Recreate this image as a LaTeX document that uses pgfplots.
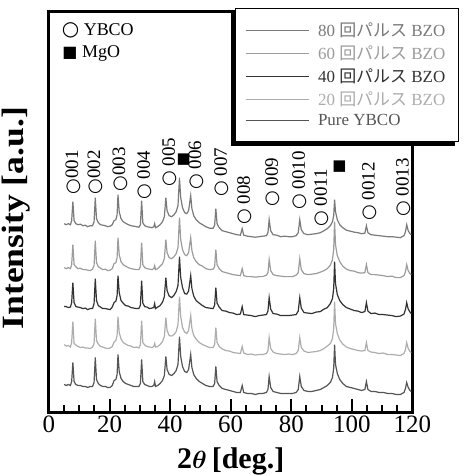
\documentclass[border=0pt]{standalone}
\usepackage{pgfplots}
\pgfplotsset{compat=1.18}
\usepackage{pgfplotstable}
\usepackage{fontspec}
\setmainfont{Liberation Serif}
\newfontfamily\cjk{Noto Sans CJK JP}
\newfontfamily\dejavu{DejaVu Sans}
\definecolor{c80}{HTML}{7A7A7A}
\definecolor{c60}{HTML}{9C9C9C}
\definecolor{c40}{HTML}{333333}
\definecolor{c20}{HTML}{ADADAD}
\definecolor{cpure}{HTML}{555555}

\pgfplotstableread{
x pure b20 b40 b60 b80
5.0 28 29 28 28 32
5.7 27 27.5 28 27 31
6.4 28 28 27 28 32
7.1 27 26.5 27.5 27 31
7.5 31 31 32 31 35
7.9 50 52 52 51 54
8.3 31 30 32 31 35
8.9 28 28.5 28 29 32
9.6 27 27 27.5 27 31
10.4 27 26 27 27.5 31.5
11.2 26 26.5 26 26 30
12.0 26 25.5 26.5 26 30.5
12.8 25 25.5 25 25.5 29
13.6 26 25 26 25 30
14.4 26 26.5 26 26.5 30
14.9 30 30 31 30 34
15.3 55 55 56 55 58
15.7 33 33 34 33 37
16.3 29 29.5 29 29 33
17.0 27 27 27.5 27.5 31
17.8 26 26.5 26 26 30.5
18.6 26 25.5 26 26.5 30
19.4 25 25 25.5 25 29
20.2 25 25.5 25 25.5 29.5
20.9 27 27 27.5 27 31
21.5 32 31.5 32 32 35
22.1 33 33 33.5 33 36
22.5 38 38 39 38 41
22.8 58 57 59 58 61
23.2 41 41 42 41 44
23.8 34 34.5 34 34 37
24.5 31 31 31.5 31 34
25.3 29 29.5 29 29.5 32.5
26.2 28 28 28.5 28 31
27.1 27 27.5 27 27 30
28.0 26 26 26.5 26.5 29.5
28.9 26 26.5 26 26 29
29.7 26 25.5 26 26 28.5
30.2 29 29 29.5 29 31
30.6 53 53 54 53 55
31.0 31 31 31.5 31 33
31.6 28 28.5 28 28 30
32.4 27 27 27.5 27 29
33.2 26 26.5 26 26.5 28.5
34.0 26 26 26.5 26 28
34.6 27 27 27 27 29
34.9 31 30 31 30 32
35.2 26 26.5 26 26 28
35.9 27 27 27.5 27 29
36.7 29 29 29 29.5 31
37.5 32 32 32.5 32 34
38.1 37 37 38 37 39
38.6 56 56 57 56 58
39.0 43 43 44 43 45
39.7 38 38 38.5 38 40
40.5 37 37.5 37 37 39
41.3 39 39 39.5 39 41
42.0 42 42 43 42 44
42.6 48 49 49 48 50
43.1 76 77 78 78 78
43.5 56 57 57 56 58
44.1 46 46 47 46 48
44.8 41 41.5 41 41 43
45.5 40 40 40.5 40 42
46.1 43 43 43.5 43 45
46.8 58 58 59 58 60
47.2 45 45 46 45 47
47.8 38 38 38.5 38 40
48.6 34 34.5 34 34 36
49.6 31 31 31.5 31 33
50.7 29 29 29 29.5 31
51.8 27 27.5 27 27 29
53.0 26 26 26.5 26 27.5
54.2 26 26 26 26.5 27.5
54.7 29 29 29.5 29 30.5
55.1 46 46 47 46 47
55.5 31 31 31.5 31 32
56.2 27 27 27.5 27 28
57.2 24 24.5 24 24 25
58.4 23 23 23.5 23 24
59.6 22 22.5 22 22 23
60.8 21 21 21.5 21 22
62.0 20 20.5 20 20.5 21
63.2 20 20 20.5 20 20.5
63.8 27 27 28 27 27
64.3 20 20.5 20 20 20.5
65.5 19 19 19.5 19 19.5
66.8 19 19.5 19 19 19
68.1 18 18.5 18 18.5 18.5
69.4 19 19 19 19 19
70.6 19 19 19.5 19 19.5
71.8 20 20 20 20.5 20
72.3 23 23 23.5 23 23
72.7 36 36 37 36 36
73.2 25 25 25.5 25 25
74.0 21 21.5 21 21 21
75.2 20 20 20.5 20 20.5
76.5 19 19.5 19 19.5 19
77.8 19 19 19 19 19.5
79.1 19 19.5 19 19 19
80.4 19 19 19.5 19 19
81.6 20 20 20 20.5 20
82.3 23 23 23.5 23 23
82.8 36 36 37 37 36
83.3 26 26 26.5 26 26
84.2 22 22.5 22 22 22
85.5 21 21 21.5 21 21
86.8 21 21.5 21 21.5 21.5
88.2 22 22 22.5 22 22
89.6 23 23 23 23.5 23
90.8 25 25 25.5 25 25
91.9 27 27.5 27 27 27
92.9 30 30 31 30.5 30
93.6 35 35 36 36 34
94.0 44 45 46 46 40
94.3 68 72 73 74 56
94.6 48 50 51 51 44
95.2 39 40 40 40 36
96.0 33 33.5 34 34 31
97.0 29 29.5 30 29.5 28
98.2 26 26.5 27 26.5 25.5
99.5 25 25 25.5 25 24.5
100.8 24 24 24 24.5 23.5
102.0 23 23 23.5 23 23
103.2 22 22.5 22 22.5 22
104.3 23 23 23 23 22.5
104.8 31 31 32 31 30
105.3 23 23 23.5 23 23
106.3 21 21.5 21 21 21
107.6 21 21 21.5 21 20.5
109.0 20 20 20 20.5 20
110.4 20 20.5 20 20 19.5
111.8 19 19 19.5 19 19
113.2 19 19 19 19.5 19
114.6 18 18.5 18 18 18.5
116.0 18 18 18.5 18 18
117.2 20 20 20.5 20 20
117.7 24 24 25 24 24
118.1 30 31 32 31 31
118.6 25 25 25.5 25 25
119.2 22 22 22.5 22 22
119.6 21 21 21 21 21
}\data

\tikzset{plab/.style={rotate=90, anchor=west, inner sep=0pt, font=\fontsize{19}{20}\selectfont}}
\newcommand{\oc}{{\dejavu\bfseries\fontsize{18}{18}\selectfont ○}}

\begin{document}
\begin{tikzpicture}
\begin{axis}[
  name=ax,
  scale only axis, width=364pt, height=401pt,
  xmin=0, xmax=120, ymin=0, ymax=401,
  clip=false,
  xtick={0,20,...,120}, minor x tick num=3,
  xtick pos=lower, ytick=\empty,
  tick align=inside,
  major tick length=13pt, minor tick length=7pt,
  every tick/.append style={black, line width=2pt},
  axis line style={line width=3pt},
  xticklabel style={font=\fontsize{25}{28}\selectfont, /pgf/number format/assume math mode=true},
  xlabel={\textbf{2}{\boldmath$\theta$}\,\textbf{[deg.]}},
  xlabel style={font=\fontsize{30}{32}\selectfont, inner sep=0pt, anchor=north, at={(axis description cs:0.5,0)}, yshift=-35pt},
  ylabel={\textbf{Intensity [a.u.]}},
  ylabel style={font=\fontsize{31}{32}\selectfont, at={(axis description cs:-0.05,0.485)}, anchor=south, inner sep=0pt, xscale=1.15},
  every axis plot/.append style={line width=1.2pt},
  legend style={name=leg, at={(axis description cs:0.511,1.01)}, anchor=north west,
    draw=black, line width=0.8pt, fill=white,
    font=\fontsize{17}{20}\selectfont, inner xsep=10pt, inner ysep=12pt,
    row sep=3.8pt, nodes={inner ysep=2pt, inner xsep=3pt}},
  legend cell align=left,
  legend image code/.code={\draw[#1, line width=0.9pt] (0pt,0pt) -- (64pt,0pt); \path (69pt,0pt);},
]
\addplot[c80] table[x=x, y expr=\thisrow{b80}+157] {\data};
\addlegendentry{\textcolor{c80}{80 {\cjk 回パルス} BZO}}
\addplot[c60] table[x=x, y expr=\thisrow{b60}+117] {\data};
\addlegendentry{\textcolor{c60}{60 {\cjk 回パルス} BZO}}
\addplot[c40] table[x=x, y expr=\thisrow{b40}+78] {\data};
\addlegendentry{\textcolor{c40}{40 {\cjk 回パルス} BZO}}
\addplot[c20] table[x=x, y expr=\thisrow{b20}+39] {\data};
\addlegendentry{\textcolor{c20}{20 {\cjk 回パルス} BZO}}
\addplot[cpure] table[x=x, y=pure] {\data};
\addlegendentry{\textcolor{cpure}{Pure YBCO}}

\node[anchor=west, inner sep=0pt, font=\fontsize{18}{20}\selectfont] at (axis cs:4.2,383) {{\dejavu\bfseries\fontsize{20}{20}\selectfont ○}\ YBCO};
\node[anchor=west, inner sep=0pt, font=\fontsize{18}{20}\selectfont] at (axis cs:4.4,359) {{\dejavu\fontsize{16}{16}\selectfont ■}\ MgO};

\node[plab] at (axis cs:7.9,218) {\oc001};
\node[plab] at (axis cs:15.2,218) {\oc002};
\node[plab] at (axis cs:23.4,221) {\oc003};
\node[plab] at (axis cs:31.6,213) {\oc\ 004};
\node[plab] at (axis cs:39.9,226) {\oc\ 005};
\node[plab] at (axis cs:48.5,223) {\oc\ 006};
\node[plab] at (axis cs:57.0,216) {\oc\ 007};
\node[plab] at (axis cs:64.6,188) {\oc\ 008};
\node[plab] at (axis cs:73.9,206) {\oc\ 009};
\node[plab] at (axis cs:82.8,203) {\oc\ 0010};
\node[plab] at (axis cs:90.0,186) {\oc\ 0011};
\node[plab] at (axis cs:105.8,192) {\oc\ 0012};
\node[plab] at (axis cs:117.0,196) {\oc\ 0013};
\node[inner sep=0pt, font=\dejavu\fontsize{15}{15}\selectfont] at (axis cs:44.5,253) {■};
\node[inner sep=0pt, font=\dejavu\fontsize{15}{15}\selectfont] at (axis cs:95.9,246) {■};
\end{axis}
\fill[black] ([shift={(-4pt,-4pt)}]leg.south west) rectangle ([shift={(-4pt,0pt)}]leg.south east);
\fill[black] ([shift={(-4pt,-4pt)}]leg.north west) rectangle (leg.south west);
\path ([shift={(-49pt,-62pt)}]ax.south west) rectangle ([shift={(52pt,12pt)}]ax.north east);
\end{tikzpicture}
\end{document}
